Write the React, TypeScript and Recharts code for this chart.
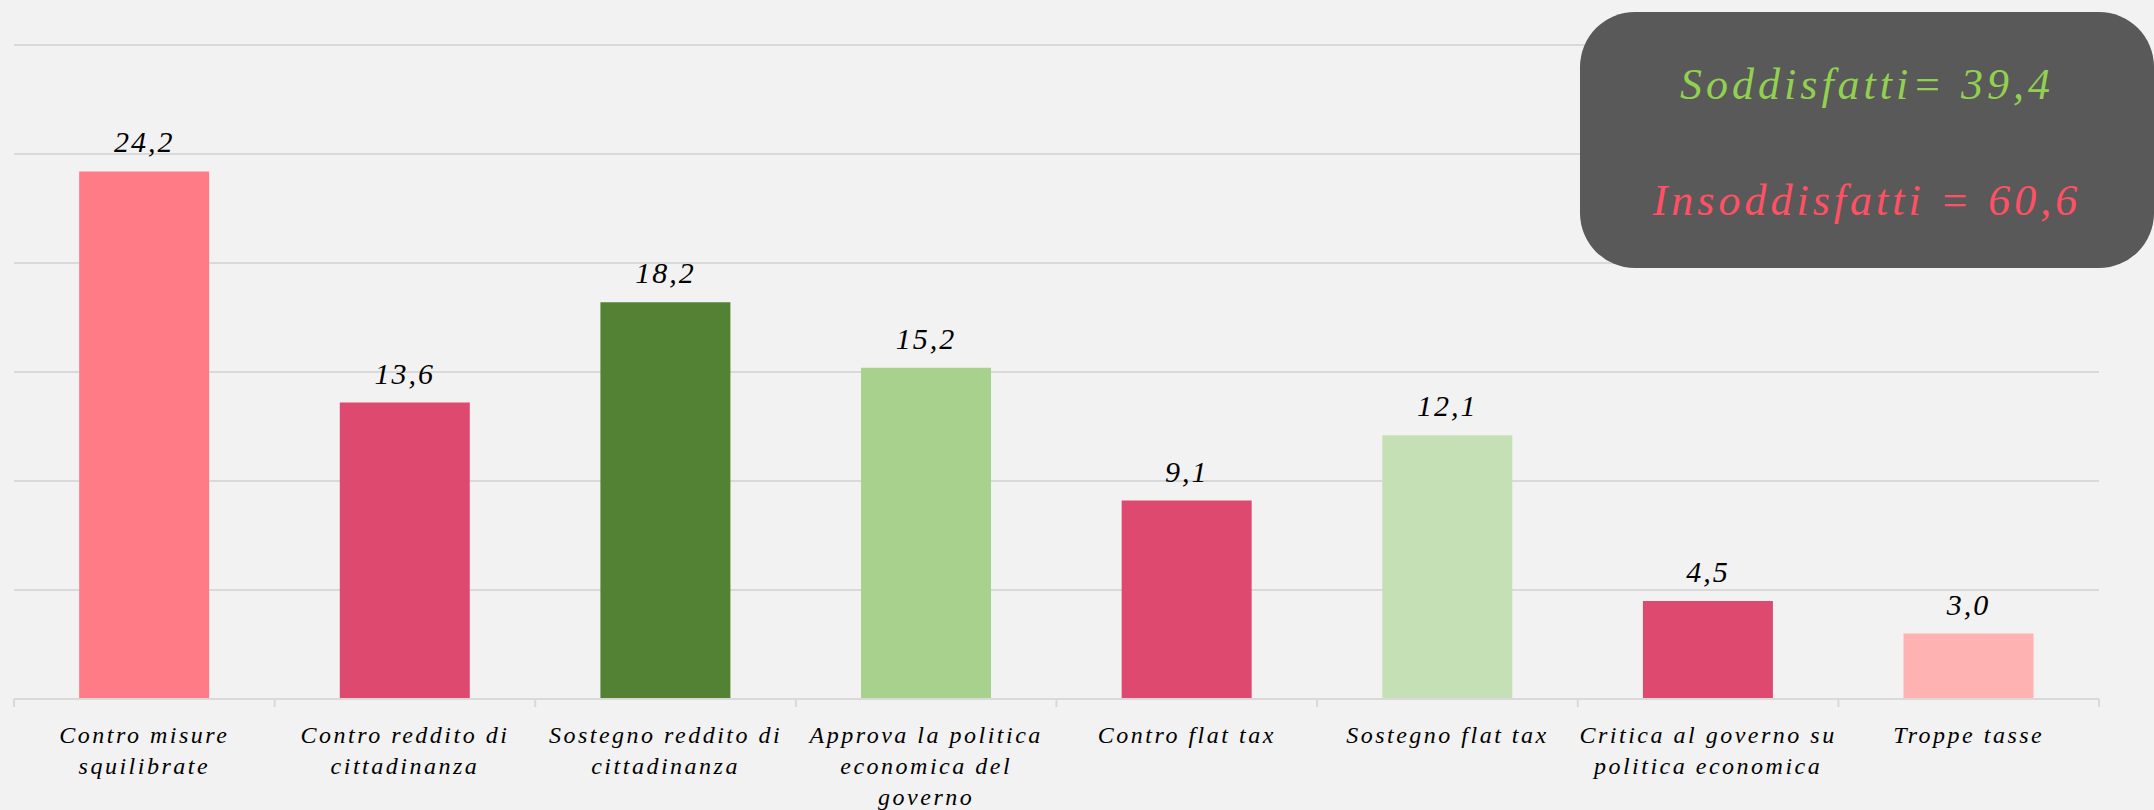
import { BarChart, Bar, XAxis, YAxis, CartesianGrid, Cell, LabelList } from "recharts";

// "\n" marks where the label wraps on the axis
const categories = [
  "Contro misure\nsquilibrate",
  "Contro reddito di\ncittadinanza",
  "Sostegno reddito di\ncittadinanza",
  "Approva la politica\neconomica del\ngoverno",
  "Contro flat tax",
  "Sostegno flat tax",
  "Critica al governo su\npolitica economica",
  "Troppe tasse",
];
const values = [24.2, 13.6, 18.2, 15.2, 9.1, 12.1, 4.5, 3.0];
const barColors = ["#FF7B86", "#DE4970", "#548235", "#A9D18E", "#DE4970", "#C5E0B4", "#DE4970", "#FFB2B2"];
const yTicks = [0, 5, 10, 15, 20, 25, 30];
const summary = [
  { text: "Soddisfatti= 39,4", color: "#92D050" },
  { text: "Insoddisfatti = 60,6", color: "#FF5064" },
];

const data = categories.map((name, i) => ({ name, value: values[i] }));

const FONT = "'Liberation Serif', 'DejaVu Serif', serif";

const CategoryTick = (props: any) => {
  const { x, y, payload, index } = props;
  const half = payload.offset || 0;
  const lines = String(payload.value).split("\n");
  const isLast = index === categories.length - 1;
  return (
    <g>
      <line x1={x - half} x2={x - half} y1={y - 8} y2={y} stroke="#D9D9D9" strokeWidth={2} />
      {isLast && <line x1={x + half} x2={x + half} y1={y - 8} y2={y} stroke="#D9D9D9" strokeWidth={2} />}
      <text
        x={x}
        y={y + 36}
        textAnchor="middle"
        fontFamily={FONT}
        fontStyle="italic"
        fontSize={24}
        letterSpacing={2.5}
        fill="#000"
      >
        {lines.map((l, i) => (
          <tspan key={i} x={x} dy={i === 0 ? 0 : 31}>
            {l}
          </tspan>
        ))}
      </text>
    </g>
  );
};

const ValueLabel = (props: any) => {
  const { x, y, width, value } = props;
  return (
    <text
      x={x + width / 2}
      y={y - 19}
      textAnchor="middle"
      fontFamily={FONT}
      fontStyle="italic"
      fontSize={30}
      letterSpacing={2}
      fill="#000"
    >
      {Number(value).toFixed(1).replace(".", ",")}
    </text>
  );
};

export default function App() {
  return (
    <div style={{ position: "absolute", left: 0, top: 0, width: 2154, height: 810, background: "#F2F2F2", overflow: "hidden" }}>
      <BarChart
        width={2154}
        height={810}
        data={data}
        margin={{ top: 45, right: 55, bottom: 0, left: 14 }}
        barCategoryGap="25%"
      >
        <CartesianGrid vertical={false} stroke="#D9D9D9" strokeWidth={2} />
        <XAxis
          dataKey="name"
          interval={0}
          height={111}
          axisLine={{ stroke: "#D9D9D9", strokeWidth: 2 }}
          tickLine={false}
          tick={<CategoryTick />}
        />
        <YAxis hide width={0} domain={[0, 30]} ticks={yTicks} />
        <Bar dataKey="value" isAnimationActive={false}>
          {data.map((_, i) => (
            <Cell key={i} fill={barColors[i]} />
          ))}
          <LabelList dataKey="value" content={<ValueLabel />} />
        </Bar>
      </BarChart>
      <div
        style={{
          position: "absolute",
          left: 1580,
          top: 12,
          width: 574,
          height: 256,
          background: "#595959",
          borderRadius: 55,
          display: "flex",
          flexDirection: "column",
          justifyContent: "center",
          alignItems: "center",
          gap: 62,
        }}
      >
        {summary.map((s) => (
          <div
            key={s.text}
            style={{ fontFamily: FONT, fontStyle: "italic", fontSize: 44, letterSpacing: 4, color: s.color, lineHeight: "48px", marginTop: 6 }}
          >
            {s.text}
          </div>
        ))}
      </div>
    </div>
  );
}
